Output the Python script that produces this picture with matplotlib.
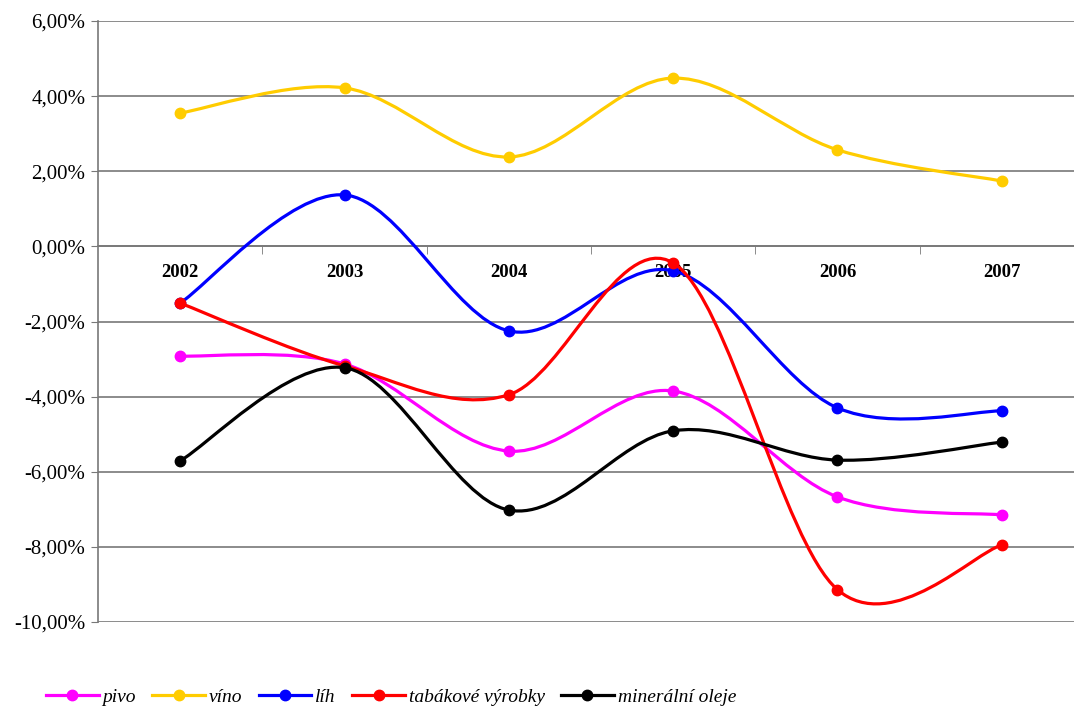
import matplotlib
matplotlib.use('Agg')
import matplotlib.pyplot as plt
from matplotlib.path import Path
from matplotlib.patches import PathPatch
from matplotlib.lines import Line2D
from matplotlib.ticker import FuncFormatter, FixedLocator

years = ['2002', '2003', '2004', '2005', '2006', '2007']
pivo = [-2.92, -3.13, -5.45, -3.85, -6.67, -7.15]
vino = [3.55, 4.22, 2.38, 4.48, 2.57, 1.74]
lih = [-1.51, 1.37, -2.25, -0.65, -4.30, -4.38]
tabak = [-1.51, -3.18, -3.95, -0.44, -9.14, -7.95]
mineral = [-5.71, -3.23, -7.02, -4.91, -5.69, -5.21]

series = [('pivo', pivo, '#FF00FF'),
          ('víno', vino, '#FFCC00'),
          ('líh', lih, '#0000FF'),
          ('tabákové výrobky', tabak, '#FF0000'),
          ('minerální oleje', mineral, '#000000')]

plt.rcParams['font.family'] = ['Liberation Serif', 'DejaVu Serif']

fig = plt.figure(figsize=(10.74, 7.06), dpi=100)
ax = fig.add_axes([98 / 1074, 1 - 622 / 706, 986 / 1074, 601 / 706])
ax.set_xlim(-0.5, 5.5)
ax.set_ylim(-10, 6)


def smooth_path(xs, ys):
    # Excel-like smoothed line: cubic bezier segments, Catmull-Rom style handles
    pts = list(zip(xs, ys))
    n = len(pts)
    verts = [pts[0]]
    codes = [Path.MOVETO]
    for i in range(n - 1):
        p0 = pts[max(i - 1, 0)]
        p1 = pts[i]
        p2 = pts[i + 1]
        p3 = pts[min(i + 2, n - 1)]
        c1 = (p1[0] + (p2[0] - p0[0]) / 6, p1[1] + (p2[1] - p0[1]) / 6)
        c2 = (p2[0] - (p3[0] - p1[0]) / 6, p2[1] - (p3[1] - p1[1]) / 6)
        verts += [c1, c2, p2]
        codes += [Path.CURVE4] * 3
    return Path(verts, codes)


xs = list(range(len(years)))
handles = []
for i, (name, vals, col) in enumerate(series):
    patch = PathPatch(smooth_path(xs, vals), facecolor='none', edgecolor=col,
                      lw=2.3, zorder=3 + i, capstyle='round', joinstyle='round')
    ax.add_patch(patch)
    ax.plot(xs, vals, 'o', color=col, ms=7.5, zorder=3 + i)
    handles.append(Line2D([], [], color=col, lw=2.3, marker='o', ms=7.5))

# grid & axes
ax.yaxis.set_major_locator(FixedLocator(range(-10, 7, 2)))
ax.yaxis.set_major_formatter(FuncFormatter(lambda v, p: ('%.2f%%' % v).replace('.', ',')))
ax.grid(axis='y', color='#787878', lw=1.2, zorder=1)
ax.set_axisbelow(True)
for s in ['top', 'right']:
    ax.spines[s].set_visible(False)
ax.spines['left'].set_color('#787878')
ax.spines['left'].set_linewidth(1.2)
ax.spines['bottom'].set_position(('data', 0))
ax.spines['bottom'].set_color('#787878')
ax.spines['bottom'].set_linewidth(1.2)
ax.tick_params(axis='y', length=5, color='#787878', labelsize=15, pad=4)

ax.set_xticks(xs)
ax.set_xticklabels(years, fontweight='bold', fontsize=13.5)
ax.set_xticks([0.5, 1.5, 2.5, 3.5, 4.5], minor=True)
ax.tick_params(axis='x', which='major', length=0, pad=13)
ax.tick_params(axis='x', which='minor', length=6, color='#787878', direction='out')

fig.legend(handles, [s[0] for s in series], loc='center', bbox_to_anchor=(391 / 1074, 1 - 697 / 706),
           ncol=5, frameon=False, prop={'style': 'italic', 'size': 14},
           handlelength=2.7, handletextpad=0.2, columnspacing=0.85)

fig.savefig('out.png', dpi=100)
